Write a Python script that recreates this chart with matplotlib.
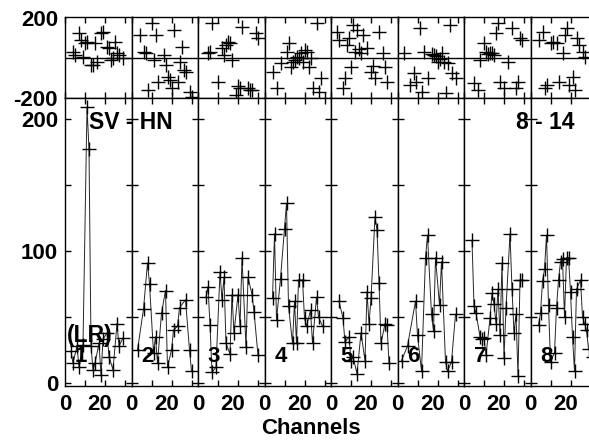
import matplotlib
matplotlib.use("Agg")
import matplotlib.pyplot as plt

plt.rcParams['font.family'] = ['Liberation Sans', 'DejaVu Sans']
plt.rcParams['font.weight'] = 'bold'
plt.rcParams['font.size'] = 16
plt.rcParams['axes.unicode_minus'] = False

# amplitude spectra, one per baseline panel (channel, value)
ch1 = [3, 4, 6, 7, 9, 11, 12, 13, 14, 15, 17, 18, 19, 21, 22, 24, 26, 27, 29]
amp1 = [24, 15, 28, 12, 29, 209, 177, 28, 10, 15, 30, 6, 33, 38, 20, 10, 45, 28, 34]
ch2 = [3, 6, 8, 9, 11, 12, 13, 15, 17, 18, 20, 21, 23, 24, 27, 29, 30]
amp2 = [25, 56, 91, 75, 23, 35, 15, 53, 70, 12, 25, 40, 43, 57, 63, 25, 9]
ch3 = [4, 5, 6, 7, 9, 11, 12, 13, 14, 16, 17, 18, 20, 21, 22, 24, 25, 27, 28, 30]
amp3 = [65, 73, 44, 8, 12, 84, 63, 80, 30, 22, 67, 38, 67, 43, 95, 27, 80, 67, 54, 21]
ch4 = [4, 5, 6, 8, 10, 11, 12, 14, 15, 16, 17, 19, 20, 21, 23, 24, 26, 27, 29]
amp4 = [64, 113, 48, 79, 117, 136, 58, 30, 62, 30, 78, 78, 49, 43, 55, 30, 65, 50, 43]
ch5 = [4, 6, 7, 9, 10, 11, 13, 15, 17, 18, 19, 20, 22, 23, 24, 25, 27, 28, 29]
amp5 = [62, 49, 31, 35, 17, 20, 7, 38, 17, 69, 45, 64, 126, 116, 76, 30, 45, 44, 15]
ch6 = [2, 5, 9, 10, 12, 14, 15, 17, 18, 19, 21, 22, 24, 25, 27, 29]
amp6 = [17, 28, 62, 36, 9, 95, 112, 52, 39, 95, 59, 92, 16, 9, 16, 52]
ch7 = [4, 5, 6, 8, 9, 10, 11, 13, 14, 15, 16, 17, 18, 19, 20, 21, 23, 24, 25, 26, 27, 28, 29]
amp7 = [108, 58, 53, 35, 33, 34, 21, 49, 68, 60, 45, 71, 36, 91, 19, 57, 113, 71, 38, 52, 5, 78, 78]
ch8 = [4, 5, 6, 7, 8, 9, 10, 12, 13, 14, 15, 16, 17, 18, 19, 20, 21, 22, 23, 25, 26, 27, 28, 29, 31]
amp8 = [44, 53, 77, 86, 112, 59, 16, 23, 57, 78, 92, 94, 50, 95, 95, 69, 35, 9, 71, 78, 50, 45, 40, 26, 20]

# phases (channel, degrees)
pch1 = [4, 5, 7, 8, 9, 10, 11, 13, 14, 15, 16, 18, 19, 21, 22, 23, 24, 25, 26, 27, 29]
ph1 = [31, 15, 122, 89, 7, 72, 81, -35, -35, 72, -18, 122, 130, 56, 48, -10, -2, 81, 23, 15, -2]
pch2 = [4, 6, 7, 8, 10, 11, 12, 13, 16, 17, 18, 19, 20, 21, 23, 24, 25, 26, 27, 29, 30]
ph2 = [114, 31, 23, -158, 171, -10, 114, -117, 15, -35, -92, -109, -150, 138, -117, -18, 56, -59, -67, -166, -191]
pch3 = [5, 6, 7, 10, 12, 13, 14, 15, 16, 17, 19, 20, 21, 22, 25, 26, 27, 29, 30]
ph3 = [23, 31, 171, -117, 47, 15, 64, 81, 72, -10, -183, -140, -150, 155, -150, -160, -158, 122, 97]
pch4 = [4, 6, 8, 11, 12, 13, 14, 15, 16, 17, 18, 19, 20, 21, 22, 23, 24, 26, 27, 28]
ph4 = [-67, -150, -26, 31, 72, -43, -18, -10, 7, 0, 23, -20, 40, 30, -43, -2, -150, 171, -166, -101]
pch5 = [3, 4, 6, 7, 8, 9, 10, 11, 12, 13, 14, 15, 16, 18, 20, 21, 22, 24, 26, 27, 28]
ph5 = [130, 89, -150, -101, 64, 97, -43, 163, 31, 138, 45, 23, 114, 48, -67, -40, -101, 130, 23, -43, -117]
pch6 = [3, 6, 8, 9, 11, 12, 13, 15, 17, 18, 19, 20, 21, 22, 23, 24, 25, 26, 27, 29]
ph6 = [23, -134, -76, -117, 146, -166, 31, -101, 20, 15, 10, -18, -5, 23, -20, -174, -26, 163, -76, -101]
pch7 = [5, 7, 8, 10, 11, 12, 13, 14, 15, 16, 17, 18, 20, 22, 24, 26, 27, 28, 29]
ph7 = [-125, -158, -10, 72, 31, 20, 23, 25, 15, 122, 171, -117, -150, -18, 146, -150, -117, 97, 89]
pch8 = [4, 6, 7, 8, 10, 11, 13, 14, 16, 17, 18, 19, 21, 22, 23, 24, 26, 27]
ph8 = [89, 130, -150, -134, 75, 81, 72, -117, 23, 114, 146, -134, -92, -158, 97, 64, 31, 7]

amp_ch = [ch1, ch2, ch3, ch4, ch5, ch6, ch7, ch8]
amps = [amp1, amp2, amp3, amp4, amp5, amp6, amp7, amp8]
ph_ch = [pch1, pch2, pch3, pch4, pch5, pch6, pch7, pch8]
phases = [ph1, ph2, ph3, ph4, ph5, ph6, ph7, ph8]
panel_labels = ['1', '2', '3', '4', '5', '6', '7', '8']

W, H = 589, 440
fig = plt.figure(figsize=(W / 100, H / 100), dpi=100)

x0, pw = 65, 66.5
top_t, top_b, bot_b = 17.5, 98.5, 386

tick_len = 4.3
for i in range(8):
    left = (x0 + i * pw) / W
    # phase panel
    axp = fig.add_axes([left, 1 - top_b / H, pw / W, (top_b - top_t) / H])
    axp.plot(ph_ch[i], phases[i], ls='none', marker='+', ms=10, mew=1.0, color='k')
    axp.axhline(0, color='k', lw=1.0)
    axp.set_xlim(0, pw / 2)
    axp.set_ylim(-200, 200)
    axp.set_xticks([])
    axp.set_xticks([0, 10, 20, 30], minor=True)
    axp.set_yticks([-200, 200])
    axp.tick_params(which='both', direction='in', top=True, right=True,
                    length=tick_len, width=1.0, labelbottom=False, pad=5)
    axp.tick_params(axis='y', length=0)
    if i > 0:
        axp.tick_params(labelleft=False)

    # amplitude panel
    axa = fig.add_axes([left, 1 - bot_b / H, pw / W, (bot_b - top_b) / H])
    axa.plot(amp_ch[i], amps[i], color='0.15', lw=0.7, marker='+', ms=10,
             mew=1.0, mec='k')
    axa.set_xlim(0, pw / 2)
    axa.set_ylim(-2.3, 215.5)
    axa.set_xticks([0, 17.5], ['0', '20'])
    axa.set_xticks([0, 10, 20, 30], minor=True)
    axa.set_yticks([0, 100, 200])
    axa.set_yticks([50, 150], minor=True)
    axa.tick_params(which='both', direction='in', top=True, right=True,
                    length=tick_len, width=1.0)
    axa.tick_params(axis='x', which='major', length=0, pad=6)
    axa.tick_params(axis='y', pad=5)
    if i > 0:
        axa.tick_params(labelleft=False)
    for ax in (axp, axa):
        for s in ax.spines.values():
            s.set_linewidth(1.0)

    fig.text(8, 20, panel_labels[i], transform=axa.transData,
             ha='center', va='center', fontsize=16)
    if i == 0:
        fig.text(12, 197, 'SV - HN', transform=axa.transData,
                 ha='left', va='center', fontsize=16.5)
        fig.text(12.5, 36, '(LR)', transform=axa.transData,
                 ha='center', va='center', fontsize=16.5)
    if i == 7:
        fig.text(22.2, 197, '8 - 14', transform=axa.transData,
                 ha='right', va='center', fontsize=16.5)

fig.text(311 / W, 1 - 428 / H, 'Channels', ha='center', va='center', fontsize=16)

fig.savefig('out.png', dpi=100)
